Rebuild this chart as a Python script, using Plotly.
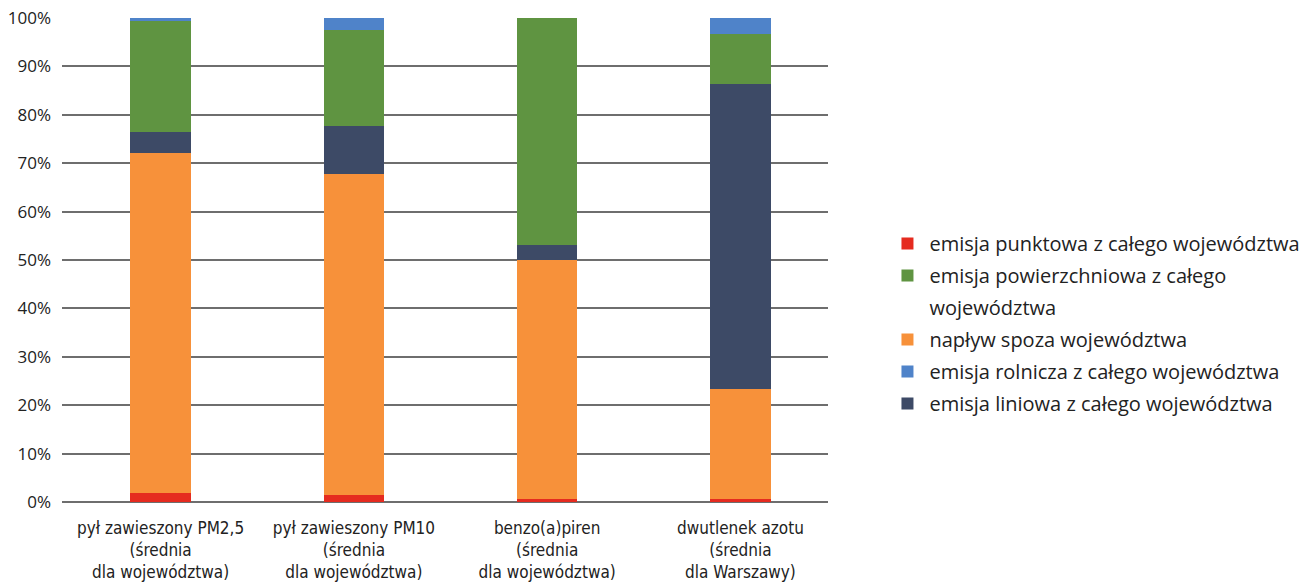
import plotly.graph_objects as go

categories = [
    "pył zawieszony PM2,5<br>(średnia<br>dla województwa)",
    "pył zawieszony PM10<br>(średnia<br>dla województwa)",
    "benzo(a)piren<br>(średnia<br>dla województwa)",
    "dwutlenek azotu<br>(średnia<br>dla Warszawy)",
]

# shares in percent, stacked bottom to top
punktowa = [1.8, 1.5, 0.6, 0.6]
naplyw = [70.4, 66.3, 49.4, 22.7]
liniowa = [4.3, 9.9, 3.0, 63.0]
powierzchniowa = [22.9, 19.8, 47.0, 10.4]
rolnicza = [0.6, 2.5, 0.0, 3.3]

series = [
    ("emisja punktowa z całego województwa", punktowa, "#e52b1f", 1),
    ("napływ spoza województwa", naplyw, "#f7913a", 4),
    ("emisja liniowa z całego województwa", liniowa, "#3d4a66", 6),
    ("emisja powierzchniowa z całego", powierzchniowa, "#5f9441", 2),
    ("emisja rolnicza z całego województwa", rolnicza, "#4f83c9", 5),
]

xs = list(range(len(categories)))

fig = go.Figure()
for name, vals, color, rank in series:
    fig.add_trace(go.Bar(
        x=xs, y=vals, name=name,
        marker=dict(color=color, line=dict(width=0)),
        legendrank=rank, legendgroup=name,
    ))

# second line of the wrapped "powierzchniowa" legend label (no swatch)
fig.add_trace(go.Bar(
    x=[xs[0]], y=[None], name="województwa",
    marker=dict(color="rgba(0,0,0,0)", line=dict(width=0)),
    legendrank=3, legendgroup="cont", hoverinfo="skip",
))

fig.update_layout(
    barmode="stack",
    bargap=0.687,
    width=1306, height=585,
    margin=dict(l=62, r=478, t=18, b=83),
    plot_bgcolor="white", paper_bgcolor="white",
    font=dict(family="Open Sans, sans-serif", size=16, color="#222"),
    legend=dict(
        xref="container", yref="container",
        x=0.678, xanchor="left", y=0.617, yanchor="top",
        font=dict(family="Open Sans, sans-serif", size=20, color="#222"),
        traceorder="grouped", tracegroupgap=3,
        itemwidth=34, itemclick=False, itemdoubleclick=False,
    ),
    showlegend=True,
)
fig.update_yaxes(
    range=[0, 100], dtick=10, ticksuffix="%",
    showgrid=True, gridcolor="#6e6e6e", gridwidth=2,
    zeroline=True, zerolinecolor="#6e6e6e", zerolinewidth=2,
    showline=False, ticks="", ticklabelstandoff=10, automargin=False,
    tickfont=dict(family="Open Sans, sans-serif", size=17, color="#222"),
)
fig.update_xaxes(
    range=[-0.51, 3.453],
    tickmode="array", tickvals=xs, ticktext=categories,
    showgrid=False, showline=False, ticks="", automargin=False,
    ticklabelstandoff=14,
    tickfont=dict(family="DejaVu Sans Condensed, Liberation Sans Narrow, sans-serif", size=17, color="#222"),
)

fig.write_html("out.html")
